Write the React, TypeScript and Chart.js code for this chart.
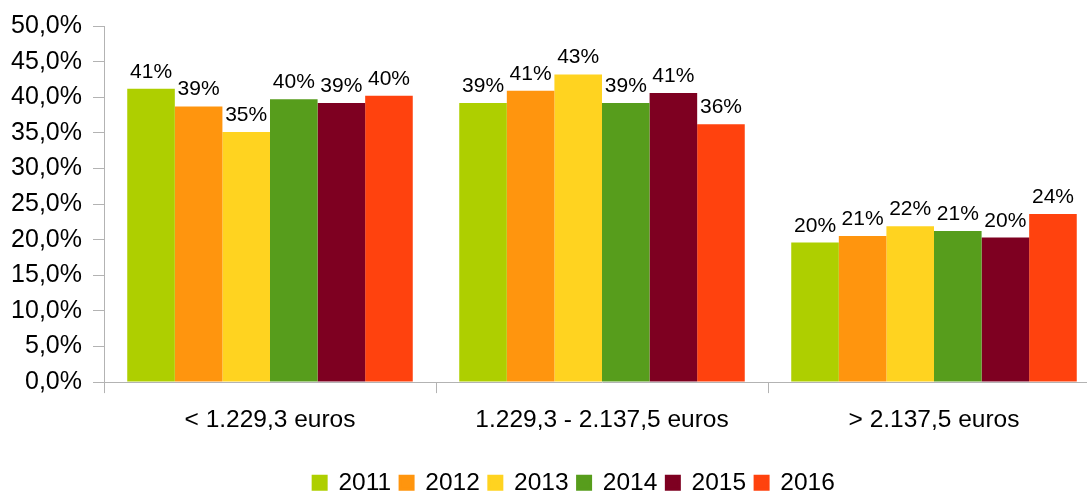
import { useEffect, useRef } from "react";
import { Chart, registerables } from "chart.js";

Chart.register(...registerables);

const categories = ["< 1.229,3 euros", "1.229,3 - 2.137,5 euros", "> 2.137,5 euros"];
const years = ["2011", "2012", "2013", "2014", "2015", "2016"];
const values2011 = [41.2, 39.2, 19.6];
const values2012 = [38.7, 40.9, 20.5];
const values2013 = [35.1, 43.2, 21.9];
const values2014 = [39.7, 39.2, 21.2];
const values2015 = [39.2, 40.6, 20.3];
const values2016 = [40.2, 36.2, 23.6];
const seriesValues = [values2011, values2012, values2013, values2014, values2015, values2016];
const seriesColors = ["#aecf00", "#ff950e", "#ffd320", "#579d1c", "#7e0021", "#ff420e"];
const yMin = 0;
const yMax = 50;
const yStep = 5;

const FONT = "'Liberation Sans', Arial, sans-serif";

const dataLabels = {
  id: "dataLabels",
  afterDatasetsDraw(chart: any) {
    const ctx = chart.ctx;
    ctx.save();
    ctx.font = `21px ${FONT}`;
    ctx.fillStyle = "#000";
    ctx.textAlign = "center";
    ctx.textBaseline = "alphabetic";
    chart.data.datasets.forEach((ds: any, di: number) => {
      const meta = chart.getDatasetMeta(di);
      meta.data.forEach((el: any, i: number) => {
        const v = ds.data[i];
        ctx.fillText(Math.round(v) + "%", el.x, el.y - 11);
      });
    });
    ctx.restore();
  },
};

const legendShift = {
  id: "legendShift",
  afterLayout(chart: any) {
    const lg = chart.legend;
    if (!lg) return;
    lg.left += 24;
    lg.right += 24;
    lg.top += 14;
    lg.bottom += 14;
  },
};

export default function App() {
  const ref = useRef<HTMLCanvasElement>(null);
  useEffect(() => {
    document.body.style.margin = "0";
    document.body.style.overflow = "hidden";
    const defaultGen = (Chart.defaults.plugins.legend.labels as any).generateLabels;
    const chart = new Chart(ref.current!, {
      type: "bar",
      data: {
        labels: categories,
        datasets: years.map((y, i) => ({
          label: y,
          data: seriesValues[i],
          backgroundColor: seriesColors[i],
          borderWidth: 0,
          categoryPercentage: 0.86,
          barPercentage: 1.0,
        })),
      },
      options: {
        animation: false,
        responsive: false,
        maintainAspectRatio: false,
        layout: { padding: { top: 25, left: 0, right: 0, bottom: 0 } },
        plugins: {
          tooltip: { enabled: false },
          legend: {
            position: "bottom",
            labels: {
              boxWidth: 13,
              boxHeight: 13,
              padding: 9,
              color: "#000",
              font: { size: 24.5, family: FONT },
              generateLabels: (c: any) =>
                defaultGen(c).map((it: any) => ({
                  ...it,
                  lineWidth: 3,
                  strokeStyle: it.fillStyle,
                })),
            },
          },
        },
        scales: {
          x: {
            grid: { drawOnChartArea: false, drawTicks: true, tickLength: 11, color: "#b3b3b3", offset: true },
            border: { color: "#b3b3b3" },
            ticks: { color: "#000", font: { size: 24.5, family: FONT }, padding: 12 },
            afterFit: (s: any) => {
              s.height += 1;
            },
          },
          y: {
            min: yMin,
            max: yMax,
            ticks: {
              stepSize: yStep,
              color: "#000",
              padding: 11,
              font: { size: 25, family: FONT },
              callback: (v: any) => Number(v).toFixed(1).replace(".", ",") + "%",
            },
            grid: { drawOnChartArea: false, drawTicks: true, tickLength: 11, color: "#b3b3b3" },
            border: { color: "#b3b3b3" },
            afterFit: (s: any) => {
              s.width = 104;
            },
          },
        },
      },
      plugins: [dataLabels, legendShift],
    });
    return () => chart.destroy();
  }, []);
  return (
    <div style={{ width: 1100, height: 491, overflow: "hidden" }}>
      <canvas ref={ref} width={1100} height={491} style={{ display: "block", width: 1100, height: 491 }} />
    </div>
  );
}
